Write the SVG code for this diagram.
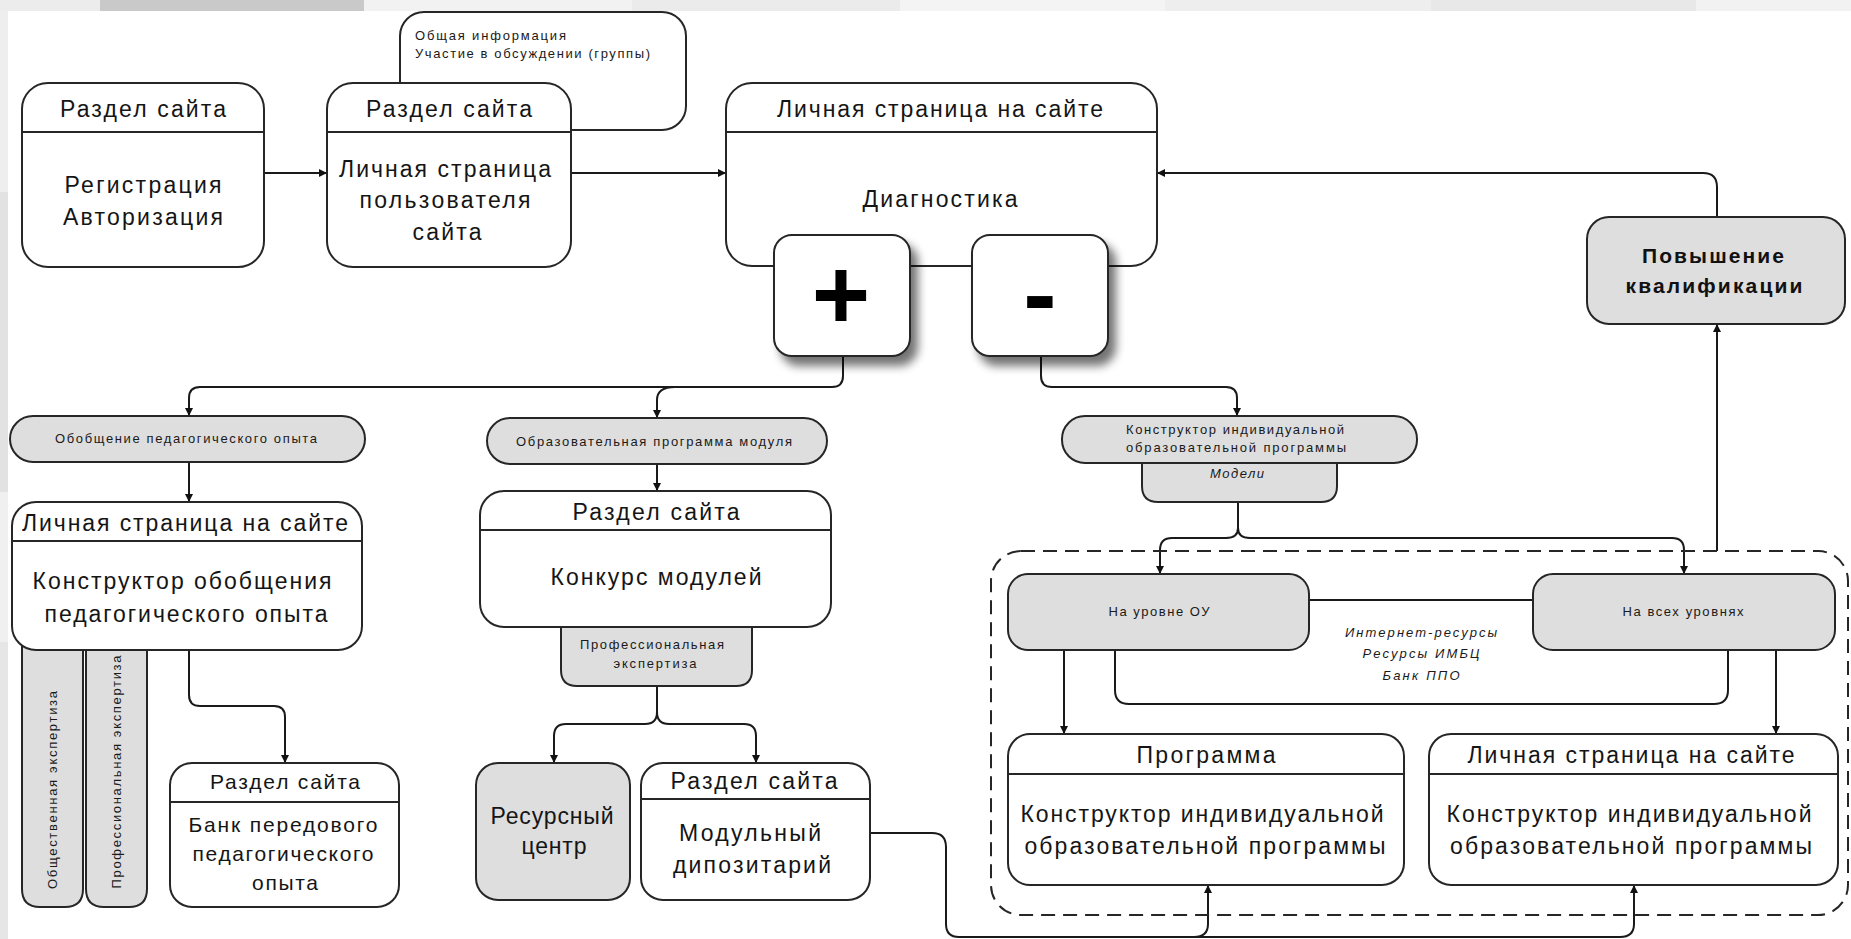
<svg xmlns="http://www.w3.org/2000/svg" width="1851" height="939" viewBox="0 0 1851 939">
<style>
.bx{fill:#fff;stroke:#262626;stroke-width:2}
.gr{fill:#dedede;stroke:#262626;stroke-width:2}
.dv{stroke:#262626;stroke-width:2}
.ln{fill:none;stroke:#1a1a1a;stroke-width:2}
.ar{fill:none;stroke:#1a1a1a;stroke-width:2;marker-end:url(#ah)}
.t{font-family:"Liberation Sans",Arial,sans-serif;font-size:23px;fill:#151515;text-anchor:middle}
.tm{font-family:"Liberation Sans",Arial,sans-serif;font-size:21px;fill:#151515;text-anchor:middle}
.s{font-family:"Liberation Sans",Arial,sans-serif;font-size:13px;fill:#1a1a1a;text-anchor:middle}
.si{font-family:"Liberation Sans",Arial,sans-serif;font-size:13px;font-style:italic;fill:#1a1a1a;text-anchor:middle}
.b{font-family:"Liberation Sans",Arial,sans-serif;font-size:21px;font-weight:bold;fill:#111;text-anchor:middle}
.sym{font-family:"Liberation Sans",Arial,sans-serif;font-size:100px;font-weight:bold;fill:#000;text-anchor:middle}
</style>
<defs>
<marker id="ah" viewBox="0 0 10 10" refX="10" refY="5" markerWidth="9" markerHeight="8" orient="auto" markerUnits="userSpaceOnUse">
<path d="M0,0 L10,5 L0,10 z" fill="#111"/>
</marker>
<filter id="sh" x="-20%" y="-20%" width="150%" height="150%">
<feGaussianBlur in="SourceAlpha" stdDeviation="5"/>
<feOffset dx="7" dy="9" result="o"/>
<feComponentTransfer><feFuncA type="linear" slope="0.55"/></feComponentTransfer>
<feMerge><feMergeNode/><feMergeNode in="SourceGraphic"/></feMerge>
</filter>
</defs>
<g id="background">
<rect x="0" y="0" width="1851" height="939" fill="#fff"/>
<rect x="0" y="0" width="100" height="11" fill="#ececec"/>
<rect x="100" y="0" width="264" height="11" fill="#c9c9c9"/>
<rect x="364" y="0" width="268" height="11" fill="#f2f2f2"/>
<rect x="632" y="0" width="268" height="11" fill="#ebebeb"/>
<rect x="900" y="0" width="265" height="11" fill="#f4f4f4"/>
<rect x="1165" y="0" width="266" height="11" fill="#eeeeee"/>
<rect x="1431" y="0" width="265" height="11" fill="#e8e8e8"/>
<rect x="1696" y="0" width="155" height="11" fill="#f2f2f2"/>
<rect x="0" y="11" width="8" height="181" fill="#eeeeee"/>
<rect x="0" y="192" width="8" height="300" fill="#e2e2e2"/>
<rect x="0" y="492" width="8" height="150" fill="#f0f0f0"/>
<rect x="0" y="642" width="8" height="297" fill="#e6e6e6"/>
</g>
<g id="connectors">
<path class="ar" d="M264,173 H327"/>
<path class="ar" d="M571,173 H726"/>
<path class="ar" d="M1717,217 V187 Q1717,173 1703,173 H1157"/>
<path class="ar" d="M1717,551 V324"/>
<path class="ar" d="M843,356 V376 Q843,387 832,387 H200 Q189,387 189,398 V416"/>
<path class="ar" d="M675,387 Q657,387 657,400 V418"/>
<path class="ar" d="M1041,356 V376 Q1041,387 1052,387 H1226 Q1237,387 1237,398 V416"/>
<path class="ar" d="M189,462 V502"/>
<path class="ar" d="M189,650 V695 Q189,706 200,706 H274 Q285,706 285,717 V763"/>
<path class="ar" d="M657,464 V491"/>
<path class="ar" d="M657,686 V712 Q657,724 645,724 H566 Q554,724 554,736 V763"/>
<path class="ar" d="M657,712 Q657,724 669,724 H744 Q756,724 756,736 V763"/>
<path class="ar" d="M1238,502 V528 Q1238,538 1226,538 H1172 Q1160,538 1160,550 V574"/>
<path class="ar" d="M1238,528 Q1238,538 1250,538 H1672 Q1684,538 1684,550 V574"/>
<path class="ar" d="M1064,650 V734"/>
<path class="ar" d="M1776,650 V734"/>
<path class="ln" d="M1309,600 H1533"/>
<path class="ln" d="M1115,650 V690 Q1115,704 1129,704 H1714 Q1728,704 1728,690 V650"/>
<path class="ar" d="M870,833 H932 Q946,833 946,847 V924 Q946,937 959,937 H1194 Q1208,937 1208,924 V885"/>
<path class="ar" d="M1194,937 H1620 Q1634,937 1634,924 V885"/>
</g>
<g id="container">
<rect x="991" y="551" width="857" height="364" rx="30" fill="none" stroke="#262626" stroke-width="2" stroke-dasharray="14 8"/>
</g>
<g id="note">
<rect class="bx" x="400" y="12" width="286" height="118" rx="24"/>
<text class="s" x="415" y="40" style="text-anchor:start" textLength="151">Общая информация</text>
<text class="s" x="415" y="58" style="text-anchor:start" textLength="235">Участие в обсуждении (группы)</text>
</g>
<g id="reg">
<rect class="bx" x="22" y="83" width="242" height="184" rx="26"/>
<line class="dv" x1="22" y1="132" x2="264" y2="132"/>
<text class="t" x="143" y="117" textLength="166">Раздел сайта</text>
<text class="t" x="143" y="193" textLength="157">Регистрация</text>
<text class="t" x="143" y="225" textLength="160">Авторизация</text>
</g>
<g id="user">
<rect class="bx" x="327" y="83" width="244" height="184" rx="26"/>
<line class="dv" x1="327" y1="132" x2="571" y2="132"/>
<text class="t" x="449" y="117" textLength="166">Раздел сайта</text>
<text class="t" x="445" y="177" textLength="212">Личная страница</text>
<text class="t" x="445" y="208" textLength="171">пользователя</text>
<text class="t" x="447" y="240" textLength="69">сайта</text>
</g>
<g id="diag">
<rect class="bx" x="726" y="83" width="431" height="183" rx="26"/>
<line class="dv" x1="726" y1="132" x2="1157" y2="132"/>
<text class="t" x="940" y="117" textLength="326">Личная страница на сайте</text>
<text class="t" x="940" y="207" textLength="155">Диагностика</text>
</g>
<g id="plus">
<rect class="bx" x="774" y="235" width="136" height="121" rx="18" filter="url(#sh)"/>
<text class="sym" x="841" y="329">+</text>
</g>
<g id="minus">
<rect class="bx" x="972" y="235" width="136" height="121" rx="18" filter="url(#sh)"/>
<text class="sym" x="1040" y="328">-</text>
</g>
<g id="qual">
<rect class="gr" x="1587" y="217" width="258" height="107" rx="22"/>
<text class="b" x="1713" y="263" textLength="142">Повышение</text>
<text class="b" x="1714" y="293" textLength="177">квалификации</text>
</g>
<g id="generalize-pill">
<rect class="gr" x="10" y="416" width="355" height="46" rx="23"/>
<text class="s" x="186" y="443" textLength="262">Обобщение педагогического опыта</text>
</g>
<g id="bars">
<path class="gr" d="M22,630 V889 Q22,907 40,907 H65 Q83,907 83,889 V630 Z"/>
<path class="gr" d="M86,630 V889 Q86,907 104,907 H129 Q147,907 147,889 V630 Z"/>
<text class="s" transform="translate(57,790) rotate(-90)" textLength="198">Общественная экспертиза</text>
<text class="s" transform="translate(121,772) rotate(-90)" textLength="233">Профессиональная экспертиза</text>
</g>
<g id="generalize-box">
<rect class="bx" x="12" y="502" width="350" height="148" rx="24"/>
<line class="dv" x1="12" y1="541" x2="362" y2="541"/>
<text class="t" x="185" y="531" textLength="326">Личная страница на сайте</text>
<text class="t" x="182" y="589" textLength="299">Конструктор обобщения</text>
<text class="t" x="186" y="622" textLength="283">педагогического опыта</text>
</g>
<g id="bank">
<rect class="bx" x="170" y="763" width="229" height="144" rx="22"/>
<line class="dv" x1="170" y1="802" x2="399" y2="802"/>
<text class="tm" x="285" y="789" textLength="150">Раздел сайта</text>
<text class="tm" x="283" y="832" textLength="189">Банк передового</text>
<text class="tm" x="283" y="861" textLength="181">педагогического</text>
<text class="tm" x="285" y="890" textLength="66">опыта</text>
</g>
<g id="module-pill">
<rect class="gr" x="487" y="418" width="340" height="46" rx="23"/>
<text class="s" x="654" y="446" textLength="276">Образовательная программа модуля</text>
</g>
<g id="expert-tab">
<path class="gr" d="M561,610 V670 Q561,686 577,686 H736 Q752,686 752,670 V610 Z"/>
<text class="s" x="652" y="649" textLength="144">Профессиональная</text>
<text class="s" x="655" y="668" textLength="83">экспертиза</text>
</g>
<g id="contest">
<rect class="bx" x="480" y="491" width="351" height="136" rx="24"/>
<line class="dv" x1="480" y1="530" x2="831" y2="530"/>
<text class="t" x="656" y="520" textLength="167">Раздел сайта</text>
<text class="t" x="656" y="585" textLength="211">Конкурс модулей</text>
</g>
<g id="resource">
<rect class="gr" x="476" y="763" width="154" height="137" rx="22"/>
<text class="t" x="552" y="824" textLength="123">Ресурсный</text>
<text class="t" x="554" y="854" textLength="65">центр</text>
</g>
<g id="depository">
<rect class="bx" x="641" y="763" width="229" height="137" rx="22"/>
<line class="dv" x1="641" y1="799" x2="870" y2="799"/>
<text class="t" x="754" y="789" textLength="167">Раздел сайта</text>
<text class="t" x="750" y="841" textLength="142">Модульный</text>
<text class="t" x="752" y="873" textLength="158">дипозитарий</text>
</g>
<g id="models-tab">
<path class="gr" d="M1142,450 V486 Q1142,502 1158,502 H1321 Q1337,502 1337,486 V450 Z"/>
<text class="si" x="1237" y="478" textLength="54">Модели</text>
</g>
<g id="constructor-pill">
<rect class="gr" x="1062" y="416" width="355" height="47" rx="23"/>
<text class="s" x="1235" y="434" textLength="218">Конструктор индивидуальной</text>
<text class="s" x="1236" y="452" textLength="220">образовательной программы</text>
</g>
<g id="level-ou">
<rect class="gr" x="1008" y="574" width="301" height="76" rx="20"/>
<text class="s" x="1159" y="616" textLength="101">На уровне ОУ</text>
</g>
<g id="level-all">
<rect class="gr" x="1533" y="574" width="302" height="76" rx="20"/>
<text class="s" x="1683" y="616" textLength="121">На всех уровнях</text>
</g>
<g id="resources-note">
<text class="si" x="1421" y="637" textLength="152">Интернет-ресурсы</text>
<text class="si" x="1421" y="658" textLength="117">Ресурсы ИМБЦ</text>
<text class="si" x="1421" y="680" textLength="77">Банк ППО</text>
</g>
<g id="program">
<rect class="bx" x="1008" y="734" width="396" height="151" rx="22"/>
<line class="dv" x1="1008" y1="774" x2="1404" y2="774"/>
<text class="t" x="1206" y="763" textLength="139">Программа</text>
<text class="t" x="1202" y="822" textLength="363">Конструктор индивидуальной</text>
<text class="t" x="1205" y="854" textLength="361">образовательной программы</text>
</g>
<g id="personal">
<rect class="bx" x="1429" y="734" width="409" height="151" rx="22"/>
<line class="dv" x1="1429" y1="774" x2="1838" y2="774"/>
<text class="t" x="1631" y="763" textLength="327">Личная страница на сайте</text>
<text class="t" x="1629" y="822" textLength="365">Конструктор индивидуальной</text>
<text class="t" x="1631" y="854" textLength="362">образовательной программы</text>
</g>
</svg>
